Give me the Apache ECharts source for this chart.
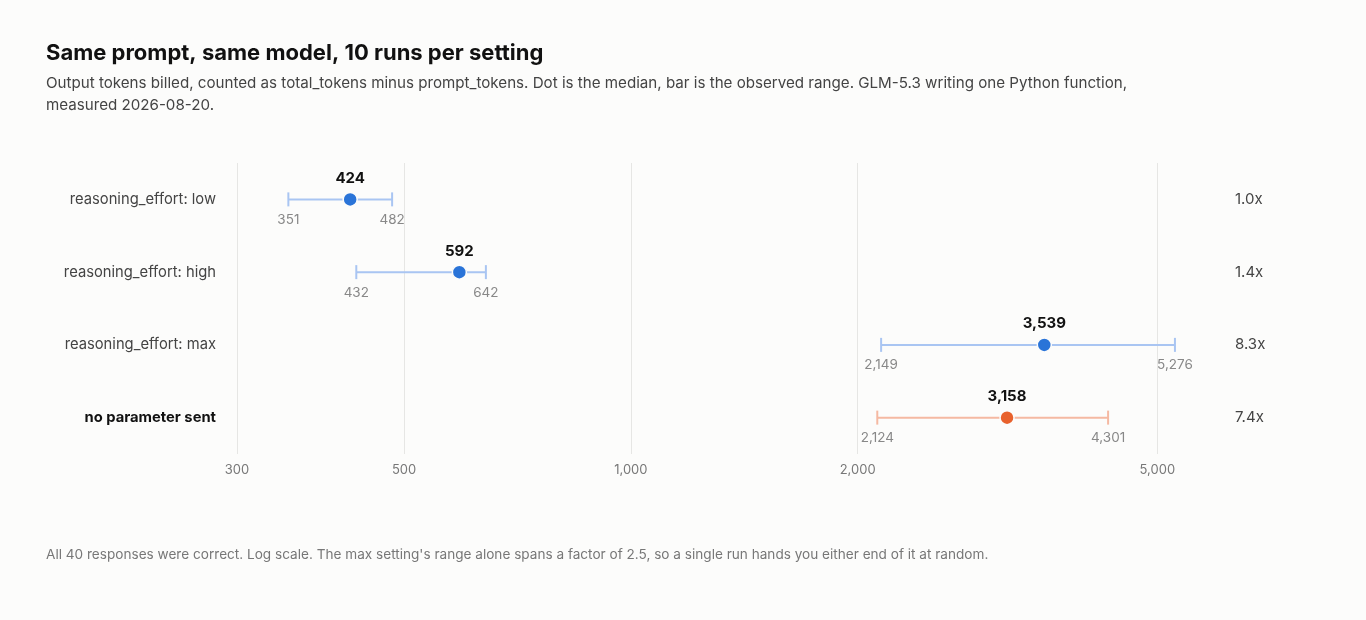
<!DOCTYPE html>
<html>
<head>
<meta charset="utf-8">
<title>Output tokens by reasoning_effort</title>
<script src="https://cdn.jsdelivr.net/npm/echarts@6/dist/echarts.min.js"></script>
<style>
  html, body { margin: 0; padding: 0; background: #fcfcfb; }
  #main { width: 1366px; height: 620px; }
</style>
</head>
<body>
<div id="main"></div>
<script>
// Data
var settings = ['reasoning_effort: low', 'reasoning_effort: high', 'reasoning_effort: max', 'no parameter sent'];
var minTokens = [351, 432, 2149, 2124];
var medianTokens = [424, 592, 3539, 3158];
var maxTokens = [482, 642, 5276, 4301];
var ratioLabels = ['1.0x', '1.4x', '8.3x', '7.4x'];
var xTicks = [300, 500, 1000, 2000, 5000];

var FONT = 'Inter, "Noto Sans", "DejaVu Sans", sans-serif';
var BLUE = '#2a74d8', BLUE_LIGHT = '#a9c5f2';
var ORANGE = '#e8612c', ORANGE_LIGHT = '#f5b9a2';

function fmt(v) {
  return v.toLocaleString('en-US');
}

var rangeData = settings.map(function (name, i) {
  return [i, minTokens[i], medianTokens[i], maxTokens[i]];
});

// error bar: range line with caps, median dot, value labels
function renderRange(params, api) {
  var idx = api.value(0);
  var lo = api.coord([api.value(1), idx]);
  var mid = api.coord([api.value(2), idx]);
  var hi = api.coord([api.value(3), idx]);
  var isDefault = idx === settings.length - 1;
  var dark = isDefault ? ORANGE : BLUE;
  var light = isDefault ? ORANGE_LIGHT : BLUE_LIGHT;
  var y = mid[1];
  var cap = 7;
  var lineStyle = { stroke: light, lineWidth: 2 };
  return {
    type: 'group',
    children: [
      { type: 'line', shape: { x1: lo[0], y1: y, x2: hi[0], y2: y }, style: lineStyle },
      { type: 'line', shape: { x1: lo[0], y1: y - cap, x2: lo[0], y2: y + cap }, style: lineStyle },
      { type: 'line', shape: { x1: hi[0], y1: y - cap, x2: hi[0], y2: y + cap }, style: lineStyle },
      { type: 'circle', shape: { cx: mid[0], cy: y, r: 7 },
        style: { fill: dark, stroke: '#fcfcfb', lineWidth: 1.5 } },
      { type: 'text', style: {
          text: fmt(api.value(2)), x: mid[0], y: y - 21,
          textAlign: 'center', textVerticalAlign: 'middle',
          font: 'bold 15px ' + FONT, fill: '#111' } },
      { type: 'text', style: {
          text: fmt(api.value(1)), x: lo[0], y: y + 20.5,
          textAlign: 'center', textVerticalAlign: 'middle',
          font: '13.5px ' + FONT, fill: '#888' } },
      { type: 'text', style: {
          text: fmt(api.value(3)), x: hi[0], y: y + 20.5,
          textAlign: 'center', textVerticalAlign: 'middle',
          font: '13.5px ' + FONT, fill: '#888' } }
    ]
  };
}

var myChart = echarts.init(document.getElementById('main'));

var option = {
  backgroundColor: '#fcfcfb',
  animation: false,
  textStyle: { fontFamily: FONT },
  title: {
    left: 41,
    top: 37,
    text: 'Same prompt, same model, 10 runs per setting',
    textStyle: { fontSize: 22, fontWeight: 'bold', color: '#111', fontFamily: FONT },
    subtext: 'Output tokens billed, counted as total_tokens minus prompt_tokens. Dot is the median, bar is the observed range. GLM-5.3 writing one Python function,\nmeasured 2026-08-20.',
    subtextStyle: { fontSize: 15.15, color: '#444', lineHeight: 22, fontFamily: FONT },
    itemGap: 8
  },
  graphic: [{
    type: 'text',
    left: 46,
    top: 548,
    style: {
      text: "All 40 responses were correct. Log scale. The max setting's range alone spans a factor of 2.5, so a single run hands you either end of it at random.",
      font: '13.6px ' + FONT,
      fill: '#777'
    }
  }],
  grid: { left: 237, right: 149, top: 163, bottom: 166 },
  xAxis: {
    type: 'log',
    min: 300,
    max: 6000,
    axisLine: { show: false },
    axisTick: { show: false, customValues: xTicks },
    axisLabel: {
      customValues: xTicks,
      color: '#777',
      fontSize: 13,
      margin: 10,
      formatter: function (v) { return fmt(v); }
    },
    splitLine: { show: true, lineStyle: { color: '#e6e6e4', width: 1 } },
    minorSplitLine: { show: false }
  },
  yAxis: [{
    type: 'category',
    inverse: true,
    data: settings,
    axisLine: { show: false },
    axisTick: { show: false },
    splitLine: { show: false },
    axisLabel: {
      margin: 21,
      fontSize: 14.75,
      color: '#444',
      formatter: function (v, i) {
        return i === settings.length - 1 ? '{b|' + v + '}' : v;
      },
      rich: { b: { fontWeight: 'bold', color: '#111', fontSize: 14.75 } }
    }
  }, {
    type: 'category',
    inverse: true,
    position: 'right',
    data: ratioLabels,
    axisLine: { show: false },
    axisTick: { show: false },
    splitLine: { show: false },
    axisLabel: { margin: 18, fontSize: 15, color: '#444' }
  }],
  series: [{
    type: 'custom',
    renderItem: renderRange,
    encode: { x: [1, 2, 3], y: 0 },
    data: rangeData,
    clip: false
  }]
};

myChart.setOption(option);
window.addEventListener('resize', function () { myChart.resize(); });
</script>
</body>
</html>
